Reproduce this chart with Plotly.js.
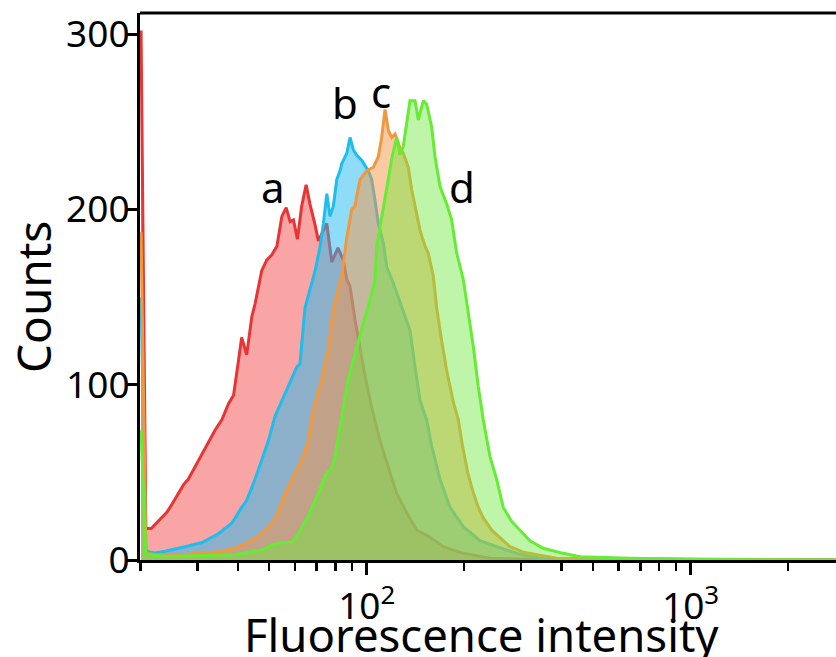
<!DOCTYPE html>
<html>
<head>
<meta charset="utf-8">
<script src="https://cdn.plot.ly/plotly-3.0.1.min.js"></script>
<style>html,body{margin:0;padding:0;background:#fff;overflow:hidden;}#chart{width:836px;height:657px;}</style>
</head>
<body>
<div id="chart"></div>
<script>
// Sample a
const xA = [20.1,20.8,21.6,22.4,24.1,24.7,26.2,27.2,28.1,29.5,31.0,32.1,34.0,35.7,37.4,38.8,39.7,40.2,41.1,42.6,44.2,45.2,47.4,49.1,50.9,52.8,54.7,56.4,58.0,59.4,61.1,63.0,65.0,66.8,69.3,70.9,75.3,78.0,81.5,84.7,86.8,88.8,92.0,96.0,98.8,103.6,109.9,116.6,123.8,132.9,142.7,156.8,172.3,198.7,240.2,395,2800];
const yA = [302,18,18,21,27,30,38,43,46,53,61,66,74,80,89,94,106,114,127,117,139,146,165,171,174,179,196,201,193,194,183,202,214,203,191,182,192,170,178,171,160,156,137,118,105,87,68,53,38,27,17,13,7.6,3.8,1,0,0];
// Sample b
const xB = [20.1,20.8,22.2,23.8,27.5,31.0,34.8,38.3,41.1,42.6,45.2,47.4,49.7,52.1,54.7,58.0,60.8,62.2,64.5,69.3,71.8,73.5,75.3,77.0,78.9,80.8,82.7,83.7,86.8,88.8,90.9,93.1,96.5,101.1,103.6,106.1,108.6,112.5,115.3,120.8,125.2,128.2,136.0,141.0,146.1,153.1,158.7,168.4,180.8,198.7,223.7,251.9,290.4,319.2,359.4,2800];
const yB = [150,5,4,5,7.6,10,15,21,30,34,46,57,68,82,91,101,110,112,144,165,179,192,209,196,202,217,222,226,232,241,234,231,228,222,217,205,192,181,167,158,150,145,131,110,91,80,65,46,30,19,11,7.6,3.8,2,0.5,0];
// Sample c
const xC = [20.1,20.8,22.2,27.5,34.8,39.2,43.1,47.4,52.1,56.0,58.7,63.0,66.0,67.7,70.1,72.6,74.3,76.1,78.8,83.7,86.8,89.9,92.0,93.1,95.3,100.0,104.8,108.6,111.2,113.9,116.6,119.5,122.3,126.7,129.7,134.4,137.7,141.0,146.1,151.4,154.9,160.5,164.4,170.4,176.6,185.1,191.8,197.6,205,212.1,221,229.1,243.2,264,276.9,304.3,385.9,2800];
const yC = [187,4,3,3.2,4.7,6.7,10,15,23,38,46,57,68,82,93,103,112,120,143,162,184,200,202,207,217,222,224,230,241,257,245,241,243,235,232,224,211,202,188,179,175,162,144,125,108,90,80,65,50,40,30,24,17,11,7.6,4.5,1,0];
// Sample d
const xD = [20.1,20.8,24.4,39.2,47.4,50.9,54.7,58.7,61.5,66.0,70.9,74.3,78.0,79.9,80.8,84.7,87.7,90.9,94.2,97.6,102.4,106.1,107.4,112.5,115.3,118.0,119.8,123.8,126.7,129.7,132.9,136.0,141.0,144.3,149.5,153.1,158.7,162.5,168.4,176.6,182.9,189.6,198.7,205.9,213.3,221,229,240.2,251.9,264,276.9,280.3,297.3,319.2,350.8,404.5,455.3,650,1068,2800];
const yD = [74,3,2,3,5.7,8.6,10,10,15,25,38,48,53,59,65,87,103,114,125,135,148,160,179,200,211,221,230,241,231,236,249,262,262,251,262,260,247,230,213,203,194,175,160,141,122,99,80,59,46,30,23,22,17,11,6.7,3.8,1.9,1,0.3,0];

const labels = ['a','b','c','d'];
const labelX = [51.5, 85.7, 110.7, 196.7];
const labelY = [213, 261, 267, 213];

const majorTicks = [100, 1000];
const majorText = ['10<sup>2</sup>', '10<sup>3</sup>'];
const minorTicks = [20,30,40,50,60,70,80,90,200,300,400,500,600,700,800,900,2000];
const yTicks = [0,100,200,300];
const xTitle = 'Fluorescence intensity';
const yTitle = 'Counts';

const series = [
  {x:xA, y:yA, line:'rgb(232,52,52)', fill:'rgba(245,75,75,0.5)'},
  {x:xB, y:yB, line:'rgb(30,190,236)', fill:'rgba(30,185,240,0.5)'},
  {x:xC, y:yC, line:'rgb(240,152,62)', fill:'rgba(245,150,70,0.5)'},
  {x:xD, y:yD, line:'rgb(102,236,52)', fill:'rgba(112,232,62,0.45)'}
];
const traces = series.map(s => ({
  type:'scatter', mode:'lines', x:s.x, y:s.y, fill:'tozeroy',
  fillcolor:s.fill, line:{color:s.line, width:3}, hoverinfo:'skip'
}));

const font = 'Noto Sans, Open Sans, sans-serif';
const annos = labels.map((t,i)=>({
  x:Math.log10(labelX[i]), y:labelY[i], xref:'x', yref:'y', text:t, showarrow:false,
  font:{size:42, family:font, color:'#000'}
}));
annos.push({xref:'paper', yref:'paper', x:(481-140)/696, y:(560-634)/547, text:xTitle, showarrow:false,
  xanchor:'center', yanchor:'middle', font:{size:45.5, family:font, color:'#000'}});
annos.push({xref:'paper', yref:'paper', x:(33-140)/696, y:(560-297)/547, text:yTitle, showarrow:false,
  textangle:-90, xanchor:'center', yanchor:'middle', font:{size:46, family:font, color:'#000'}});

const layout = {
  width:836, height:657,
  margin:{l:140, r:0, t:13, b:97},
  paper_bgcolor:'#fff', plot_bgcolor:'#fff',
  showlegend:false,
  font:{family:font, color:'#000'},
  xaxis:{
    type:'log', range:[Math.log10(19.95), 3.449],
    tickmode:'array', tickvals:majorTicks, ticktext:majorText,
    ticks:'outside', ticklen:12, tickwidth:3, tickcolor:'#000',
    minor:{tickmode:'array', tickvals:minorTicks, ticks:'outside', ticklen:8, tickwidth:2.5, tickcolor:'#000'},
    showline:true, linewidth:3, linecolor:'#000', showgrid:false, zeroline:false,
    tickfont:{size:37, family:font, color:'#000'}
  },
  yaxis:{
    range:[0,312], tickmode:'array', tickvals:yTicks,
    ticks:'outside', ticklen:10, tickwidth:3, tickcolor:'#000',
    ticklabelstandoff:-10,
    showline:true, linewidth:3, linecolor:'#000', showgrid:false, zeroline:false,
    tickfont:{size:37, family:font, color:'#000'}
  },
  shapes:[{type:'line', xref:'paper', yref:'paper', x0:0, x1:1, y0:1, y1:1, line:{color:'#000', width:3}}],
  annotations: annos
};
Plotly.newPlot('chart', traces, layout, {displayModeBar:false, staticPlot:true});
</script>
</body>
</html>
